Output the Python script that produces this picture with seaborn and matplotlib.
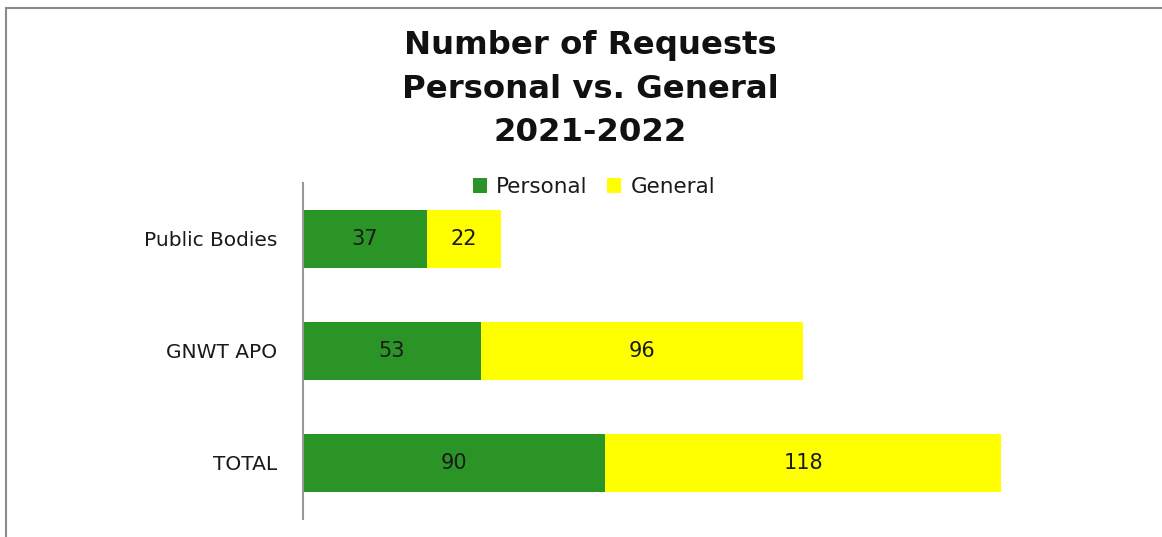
import matplotlib
matplotlib.use("Agg")
import matplotlib.pyplot as plt
import seaborn as sns
import pandas as pd
from matplotlib.patches import Patch
from matplotlib.lines import Line2D

categories = ["Public Bodies", "GNWT APO", "TOTAL"]
personal = [37, 53, 90]
general = [22, 96, 118]
series_names = ["Personal", "General"]
title_lines = ["Number of Requests", "Personal vs. General", "2021-2022"]

GREEN = "#2A9426"
YELLOW = "#FFFF00"

sns.set_theme(style="white")
plt.rcParams["font.family"] = ["DejaVu Sans"]

W, H = 1162, 537
fig = plt.figure(figsize=(W / 100, H / 100), dpi=100)
ax = fig.add_axes([303 / W, 18 / H, 839 / W, 336 / H])

df = pd.DataFrame({"cat": categories, "personal": personal, "general": general})
df["total"] = df["personal"] + df["general"]

sns.barplot(data=df, y="cat", x="total", color=YELLOW, saturation=1, width=0.51,
            orient="h", ax=ax, order=categories)
sns.barplot(data=df, y="cat", x="personal", color=GREEN, saturation=1, width=0.51,
            orient="h", ax=ax, order=categories)
for p in ax.patches:
    p.set_edgecolor("none")

for i, (pv, gv) in enumerate(zip(personal, general)):
    ax.text(pv / 2, i, str(pv), ha="center", va="center", fontsize=15, color="#1a1a1a")
    ax.text(pv + gv / 2, i, str(gv), ha="center", va="center", fontsize=15, color="#1a1a1a")

ax.set_xlim(0, 250)
ax.set_ylim(2.5, -0.5)
ax.set_xlabel("")
ax.set_ylabel("")
ax.set_xticks([])
ax.tick_params(axis="y", length=0, pad=18.5, labelsize=14.5, labelcolor="#1a1a1a")
for s in ["top", "right", "bottom"]:
    ax.spines[s].set_visible(False)
ax.spines["left"].set_color("#999999")
ax.spines["left"].set_linewidth(1.5)

handles = [Patch(facecolor=GREEN, edgecolor="none"), Patch(facecolor=YELLOW, edgecolor="none")]
fig.legend(handles, series_names, loc="center", bbox_to_anchor=(594 / W, 1 - 187 / H),
           ncol=2, frameon=False, fontsize=15.5, handlelength=0.65, handleheight=0.65,
           handletextpad=0.45, columnspacing=0.9, labelcolor="#1a1a1a")

fig.text(590 / W, 1 - 30 / H, "\n".join(title_lines), ha="center", va="top",
         fontsize=23.3, fontweight="bold", color="#111111", linespacing=1.53)

# outer chart border (top and left visible)
fig.add_artist(Line2D([6 / W, 6 / W], [0, 1 - 8 / H], transform=fig.transFigure,
                      color="#8a8a8a", linewidth=1.5))
fig.add_artist(Line2D([6 / W, 1], [1 - 8 / H, 1 - 8 / H], transform=fig.transFigure,
                      color="#8a8a8a", linewidth=1.5))

fig.savefig("out.png", dpi=100)
